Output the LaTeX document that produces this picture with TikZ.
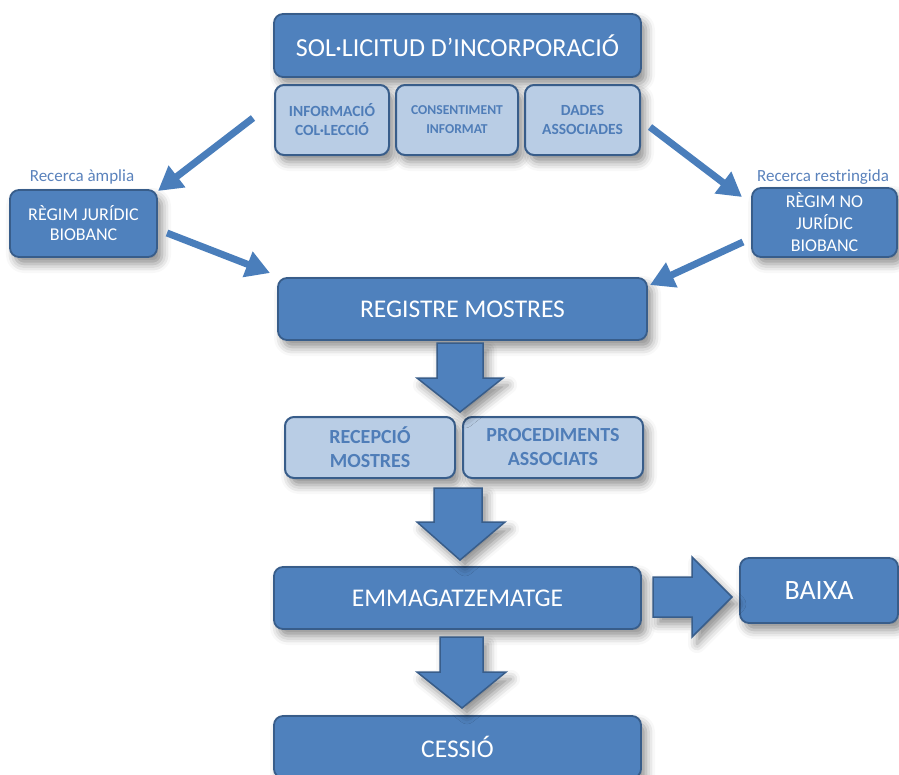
\documentclass[tikz,border=0pt]{standalone}
\usepackage{fontspec}
\setmainfont{Carlito}
\usetikzlibrary{arrows.meta,shadows.blur}
\definecolor{dkfill}{HTML}{4F81BD}
\definecolor{dkline}{HTML}{385D8A}
\definecolor{ltfill}{HTML}{B9CDE5}
\definecolor{lttext}{HTML}{4F7DB8}
\definecolor{arrcol}{HTML}{4A7EBB}
\definecolor{lbltext}{HTML}{5A82BC}
\tikzset{
  shd/.style={blur shadow={shadow xshift=5pt, shadow yshift=-7pt, shadow blur radius=9pt, shadow opacity=45}},
  darkbox/.style={shd, draw=dkline, line width=1.8pt, fill=dkfill, rounded corners=9pt,
    text=white, align=center, inner sep=0pt},
  lightbox/.style={shd, draw=dkline, line width=2pt, fill=ltfill, rounded corners=9pt,
    text=lttext, align=center, inner sep=0pt, font=\bfseries},
  lbl/.style={text=lbltext, font=\fontsize{17}{19}\selectfont},
  thinarr/.style={draw=arrcol, line width=7pt, -{Triangle[width=26pt,length=24pt]}},
  blockarr/.style={shd, fill=dkfill, draw=dkline, line width=1.5pt, line join=miter},
}
\begin{document}
\begin{tikzpicture}[x=1pt,y=-1pt]
\useasboundingbox (0,0) rectangle (899,774);
% main boxes
\node[darkbox, minimum width=367pt, minimum height=63pt, font=\fontsize{26}{29}\selectfont] (sol) at (457.5,45.5) {SOL·LICITUD D’INCORPORACIÓ};
\node[lightbox, minimum width=114pt, minimum height=70pt, font=\bfseries\fontsize{15.5}{19}\selectfont] (inf) at (332,120) {INFORMACIÓ\\COL·LECCIÓ};
\node[lightbox, minimum width=122pt, minimum height=70pt, font=\bfseries\fontsize{13.6}{19}\selectfont] (con) at (457,120) {CONSENTIMENT\\INFORMAT};
\node[lightbox, minimum width=115pt, minimum height=70pt, font=\bfseries\fontsize{15.5}{19}\selectfont] (dad) at (582.5,120) {DADES\\ASSOCIADES};
\node[darkbox, minimum width=147pt, minimum height=67pt, font=\fontsize{18}{20}\selectfont] (jur) at (83.5,223.5) {RÈGIM JURÍDIC\\BIOBANC};
\node[darkbox, minimum width=145pt, minimum height=69pt, font=\fontsize{18}{22}\selectfont] (nojur) at (824.5,222.5) {RÈGIM NO\\JURÍDIC\\BIOBANC};
\node[lbl] (lblA) at (82,177) {Recerca àmplia};
\node[lbl] (lblR) at (823,177) {Recerca restringida};
\node[darkbox, minimum width=369pt, minimum height=62pt, font=\fontsize{25.5}{28}\selectfont] (reg) at (462.5,309) {REGISTRE MOSTRES};
\node[lightbox, minimum width=170pt, minimum height=61pt, font=\bfseries\fontsize{20}{24}\selectfont] (rec) at (370,447.5) {RECEPCIÓ\\MOSTRES};
\node[lightbox, minimum width=180pt, minimum height=61pt, font=\bfseries\fontsize{20}{24}\selectfont] (pro) at (553,447.5) {PROCEDIMENTS\\ASSOCIATS};
\node[darkbox, minimum width=367pt, minimum height=62pt, font=\fontsize{25.5}{28}\selectfont] (emm) at (457.5,598) {EMMAGATZEMATGE};
\node[darkbox, minimum width=158pt, minimum height=65pt, font=\fontsize{28}{31}\selectfont] (baixa) at (819,590.5) {BAIXA};
\node[darkbox, minimum width=367pt, minimum height=62pt, font=\fontsize{25.5}{28}\selectfont] (ces) at (457.5,747) {CESSIÓ};
% block arrows
\draw[blockarr] (437,343) -- (483,343) -- (483,378) -- (503,378) -- (460,412) -- (417,378) -- (437,378) -- cycle;
\draw[blockarr] (434,488) -- (482,488) -- (482,522) -- (505,522) -- (460,560) -- (417,522) -- (434,522) -- cycle;
\draw[blockarr] (440,637) -- (483,637) -- (483,672) -- (506,672) -- (462,708) -- (417,672) -- (440,672) -- cycle;
\draw[blockarr] (653,577) -- (692,577) -- (692,557) -- (732,597) -- (692,637) -- (692,617) -- (653,617) -- cycle;
% thin arrows
\coordinate (a1s) at (253,118); \coordinate (a1e) at (158,191);
\coordinate (a2s) at (167,233); \coordinate (a2e) at (270,273);
\coordinate (a3s) at (650,127); \coordinate (a3e) at (742,197);
\coordinate (a4s) at (743,242); \coordinate (a4e) at (650,285);
\draw[thinarr] (a1s) -- (a1e);
\draw[thinarr] (a2s) -- (a2e);
\draw[thinarr] (a3s) -- (a3e);
\draw[thinarr] (a4s) -- (a4e);
\end{tikzpicture}
\end{document}
